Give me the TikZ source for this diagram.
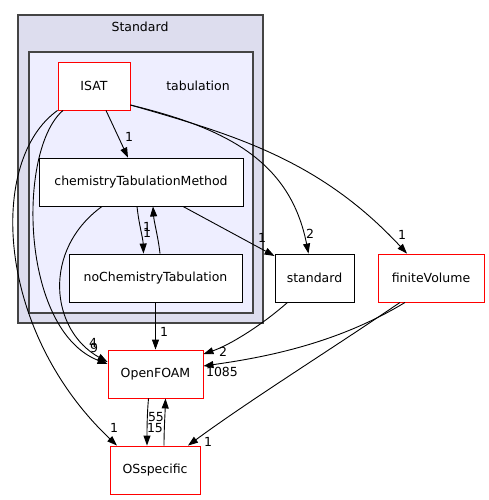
\documentclass[tikz,border=0pt]{standalone}
\usepackage{fontspec}
\setmainfont{DejaVu Sans}
\usetikzlibrary{arrows.meta}
\definecolor{outerfill}{HTML}{DDDDEE}
\definecolor{innerfill}{HTML}{EEEEFF}
\definecolor{clusterline}{HTML}{444444}
\begin{document}
\begin{tikzpicture}[x=1pt, y=-1pt,
    every node/.style={font=\fontsize{12.5}{14}\selectfont, inner sep=0pt},
    dirbox/.style={draw=black, fill=white, line width=0.9pt, minimum height=48pt},
    extbox/.style={draw=red, fill=white, line width=0.9pt, minimum height=48pt},
    dep/.style={-{Triangle[length=10pt, width=7pt]}, line width=0.9pt},
    cnt/.style={font=\fontsize{12.5}{14}\selectfont}]
    \useasboundingbox (0,0) rectangle (488,500);

    % Standard / tabulation clusters
    \draw[fill=outerfill, draw=clusterline, line width=1.2pt] (18,15) rectangle (263,323);
    \node (stdlabel) at (140,27) {Standard};
    \draw[fill=innerfill, draw=clusterline, line width=1.2pt] (29,52) rectangle (253,313);
    \node (tablabel) at (198,86) {tabulation};

    % directories
    \node[extbox, minimum width=72pt] (isat) at (94,86) {ISAT};
    \node[dirbox, minimum width=204pt] (chem) at (141,182) {chemistryTabulationMethod};
    \node[dirbox, minimum width=173pt] (nochem) at (155.5,278) {noChemistryTabulation};
    \node[dirbox, minimum width=79pt] (standard) at (314.5,278) {standard};
    \node[extbox, minimum width=106pt] (finite) at (431,278) {finiteVolume};
    \node[extbox, minimum width=95pt] (openfoam) at (155.5,374) {OpenFOAM};
    \node[extbox, minimum width=90pt] (osspec) at (155,470) {OSspecific};

    % dependencies inside tabulation
    \draw[dep] ([xshift=12pt]isat.south) -- ([xshift=-13pt]chem.north);
    \node[cnt] (n1) at (129,137) {1};
    \draw[dep] ([xshift=-4pt]chem.south) .. controls (139,225) and (143,238) .. ([xshift=-12pt]nochem.north);
    \node[cnt] (n2) at (147,233) {1};
    \draw[dep] ([xshift=4.5pt]nochem.north) .. controls (158,236) and (154,222) .. ([xshift=12pt]chem.south);
    \node[cnt] (n3) at (147,227) {1};

    % dependencies to standard and finiteVolume
    \draw[dep] ([xshift=42pt]chem.south) -- ([yshift=22pt]standard.west);
    \node[cnt] (n4) at (262,238) {1};
    \draw[dep] ([yshift=-19pt]isat.east) .. controls (225,128) and (290,160) .. ([xshift=-6pt]standard.north);
    \node[cnt] (n5) at (310,234) {2};
    \draw[dep] ([yshift=-19pt]isat.east) .. controls (235,135) and (320,160) .. ([xshift=-24pt]finite.north);
    \node[cnt] (n6) at (402,235) {1};

    % dependencies to OpenFOAM
    \draw[dep] ([xshift=-39pt]chem.south) .. controls (42,250) and (50,330) .. ([yshift=12pt]openfoam.west);
    \node[cnt] (n7) at (93,343) {4};
    \draw[dep] ([xshift=-31pt]isat.south) .. controls (17,150) and (20,330) .. ([yshift=10pt]openfoam.west);
    \node[cnt] (n8) at (94,348) {9};
    \draw[dep] (nochem.south) -- (openfoam.north);
    \node[cnt] (n9) at (164,332) {1};
    \draw[dep] ([xshift=-27pt]standard.south) .. controls (262,325) and (230,345) .. ([yshift=20pt]openfoam.east);
    \node[cnt] (n10) at (223,352) {2};
    \draw[dep] ([xshift=-26pt]finite.south) .. controls (335,345) and (260,358) .. ([yshift=8pt]openfoam.east);
    \node[cnt] (n11) at (222,372) {1085};

    % dependencies to OSspecific
    \draw[dep] (isat.south west) .. controls (-12,160) and (-5,330) .. ([xshift=-38pt]osspec.north);
    \node[cnt] (n12) at (114,428) {1};
    \draw[dep] ([xshift=-31pt]finite.south) .. controls (330,350) and (250,400) .. ([xshift=33pt]osspec.north);
    \node[cnt] (n13) at (208,442) {1};
    \draw[dep] ([xshift=-7pt]openfoam.south) .. controls (147,415) and (147,430) .. ([xshift=-8pt]osspec.north);
    \node[cnt] (n14) at (156,417) {55};
    \draw[dep] ([xshift=9pt]osspec.north) .. controls (164,430) and (165,415) .. ([xshift=10pt]openfoam.south);
    \node[cnt] (n15) at (155,428) {15};
\end{tikzpicture}
\end{document}
